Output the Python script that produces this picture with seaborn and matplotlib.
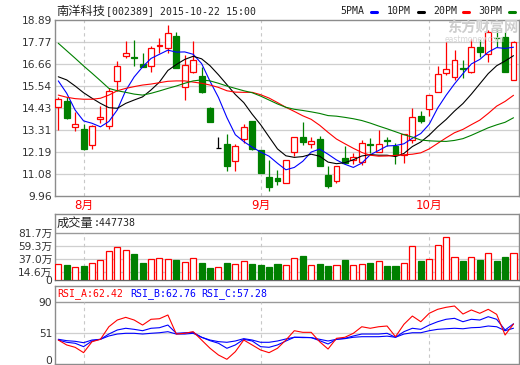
import matplotlib
matplotlib.use("Agg")
import matplotlib.pyplot as plt
import seaborn as sns
import numpy as np
from matplotlib.lines import Line2D

# ---------------- data ----------------
opens = [14.46, 14.78, 13.45, 13.36, 12.55, 13.85, 13.51, 15.81, 17.05, 17.01,
         16.66, 16.56, 17.57, 17.48, 18.09, 15.51, 16.24, 16.05, 14.43, 12.38,
         12.60, 11.72, 12.85, 13.77, 12.29, 10.92, 10.86, 10.60, 12.21, 12.94,
         12.61, 12.85, 11.03, 10.74, 11.90, 11.79, 11.70, 12.60, 12.21, 12.80,
         12.50, 12.04, 12.80, 14.02, 14.36, 15.25, 16.19, 16.01, 16.46, 16.27,
         17.50, 17.15, 18.00, 18.01, 15.85]
highs = [15.00, 15.00, 14.24, 13.61, 13.55, 14.53, 15.42, 16.81, 17.82, 17.88,
         17.23, 17.57, 17.96, 18.64, 18.30, 17.11, 17.82, 16.52, 14.47, 12.97,
         13.11, 12.60, 13.61, 13.77, 12.31, 11.79, 11.28, 11.79, 12.95, 13.73,
         12.97, 13.00, 11.48, 11.48, 12.50, 12.13, 12.80, 12.92, 13.31, 12.97,
         12.67, 13.13, 14.44, 14.29, 15.08, 16.57, 17.76, 17.37, 16.86, 17.91,
         17.88, 18.38, 18.42, 18.27, 17.80]
lows = [13.31, 13.87, 13.27, 12.29, 12.33, 13.65, 13.34, 15.30, 16.98, 16.57,
        16.49, 16.27, 17.20, 17.20, 16.44, 14.83, 16.19, 15.20, 13.73, 12.38,
        11.24, 11.24, 12.63, 12.29, 11.12, 10.23, 10.53, 10.60, 11.99, 12.55,
        12.41, 11.50, 10.38, 10.60, 11.58, 11.58, 11.53, 12.13, 12.21, 12.50,
        11.57, 11.65, 12.67, 13.65, 14.02, 15.25, 16.10, 15.85, 15.93, 16.19,
        17.03, 16.77, 17.54, 16.24, 15.83]
closes = [14.88, 13.93, 13.60, 12.33, 13.51, 13.97, 15.30, 16.56, 17.20, 16.98,
          16.52, 17.45, 17.60, 18.25, 16.47, 16.59, 16.86, 15.25, 13.73, 12.38,
          11.50, 12.50, 13.48, 12.33, 11.14, 10.43, 10.74, 11.79, 12.94, 12.72,
          12.75, 11.50, 10.48, 11.48, 11.62, 11.95, 12.63, 12.57, 12.58, 12.76,
          12.04, 13.11, 13.98, 13.78, 15.08, 16.13, 16.39, 16.85, 16.42, 17.50,
          17.28, 18.27, 17.98, 16.24, 17.76]
ma5 = [15.80, 15.17, 14.32, 13.77, 13.65, 13.47, 13.74, 14.33, 15.31, 16.00,
       16.51, 16.94, 17.15, 17.36, 17.26, 17.27, 17.15, 16.68, 15.78, 14.96,
       13.94, 13.07, 12.72, 12.44, 12.19, 11.98, 11.62, 11.29, 11.41, 11.72,
       12.19, 12.34, 12.08, 11.79, 11.57, 11.41, 11.63, 12.05, 12.27, 12.50,
       12.52, 12.61, 12.89, 13.13, 13.60, 14.42, 15.07, 15.65, 16.17, 16.66,
       16.89, 17.26, 17.49, 17.45, 17.51]
ma10 = [16.01, 15.85, 15.54, 15.20, 14.92, 14.66, 14.44, 14.41, 14.66, 14.83,
        14.99, 15.34, 15.74, 16.33, 16.63, 16.89, 17.05, 16.92, 16.57, 16.11,
        15.61, 15.11, 14.70, 14.11, 13.58, 12.96, 12.35, 12.00, 11.92, 11.96,
        12.08, 11.98, 11.68, 11.60, 11.65, 11.80, 11.99, 12.06, 12.03, 12.03,
        11.96, 12.12, 12.47, 12.70, 13.05, 13.47, 13.84, 14.27, 14.65, 15.13,
        15.65, 16.17, 16.57, 16.81, 17.08]
ma20 = [15.08, 14.97, 14.90, 14.87, 14.87, 14.92, 15.08, 15.30, 15.42, 15.51,
        15.59, 15.64, 15.71, 15.78, 15.80, 15.80, 15.74, 15.68, 15.59, 15.47,
        15.30, 15.23, 15.22, 15.22, 15.10, 14.93, 14.70, 14.46, 14.25, 14.03,
        13.85, 13.55, 13.19, 12.85, 12.61, 12.38, 12.17, 12.03, 11.98, 11.99,
        12.02, 12.05, 12.08, 12.15, 12.35, 12.63, 12.91, 13.17, 13.34, 13.58,
        13.81, 14.15, 14.52, 14.76, 15.07]
ma30 = [17.71, 17.33, 16.95, 16.56, 16.19, 15.81, 15.42, 15.30, 15.22, 15.13,
        15.08, 15.17, 15.29, 15.42, 15.54, 15.68, 15.80, 15.85, 15.80, 15.68,
        15.54, 15.42, 15.30, 15.20, 15.03, 14.83, 14.63, 14.46, 14.36, 14.30,
        14.23, 14.15, 14.04, 14.01, 13.95, 13.88, 13.79, 13.66, 13.51, 13.37,
        13.22, 13.07, 12.95, 12.80, 12.76, 12.74, 12.73, 12.78, 12.87, 13.04,
        13.23, 13.42, 13.57, 13.70, 13.93]
volumes = [27.6, 25.9, 21.9, 24.2, 28.8, 34.5, 49.5, 56.5, 51.3, 45.4,
           29.9, 35.7, 37.5, 35.7, 34.5, 30.5, 37.5, 29.9, 21.3, 21.9,
           29.9, 27.6, 32.2, 27.6, 25.9, 22.5, 27.6, 25.9, 37.5, 41.5,
           25.9, 27.6, 24.2, 25.9, 34.5, 25.9, 27.6, 29.4, 32.2, 24.2,
           24.2, 28.8, 58.7, 32.8, 35.7, 60.4, 73.7, 39.2, 32.8, 39.2,
           34.5, 46.1, 32.8, 39.7, 47.0]
rsi_a = [42.7, 36.6, 33.7, 27.1, 40.6, 43.6, 59.1, 67.4, 70.7, 67.4,
         61.2, 68.3, 69.0, 73.6, 50.1, 51.0, 53.0, 42.7, 32.5, 24.2,
         18.9, 28.3, 42.7, 36.6, 30.4, 27.1, 32.5, 42.7, 54.2, 52.2,
         52.2, 40.6, 31.6, 44.8, 46.1, 51.0, 59.1, 57.2, 59.1, 60.0,
         46.8, 62.1, 72.3, 65.3, 75.7, 80.6, 83.1, 84.7, 74.8, 79.8,
         75.7, 80.6, 74.4, 48.9, 62.42]
rsi_b = [42.7, 39.9, 38.7, 34.5, 41.5, 43.6, 50.1, 55.1, 57.2, 55.9,
         54.2, 57.2, 57.9, 61.2, 51.0, 51.7, 52.2, 46.1, 41.9, 38.7,
         32.5, 36.6, 43.6, 41.5, 34.5, 33.7, 36.6, 41.5, 46.1, 46.1,
         45.7, 41.9, 37.8, 43.6, 44.8, 47.7, 50.1, 50.1, 50.1, 51.0,
         46.1, 53.0, 57.2, 55.9, 61.2, 65.3, 68.3, 69.5, 65.3, 68.3,
         67.4, 71.5, 68.3, 55.1, 62.76]
rsi_c = [43.6, 41.9, 41.1, 39.4, 42.7, 43.6, 47.7, 50.1, 51.0, 51.0,
         50.1, 51.0, 51.7, 53.0, 50.1, 50.1, 51.0, 46.1, 42.7, 40.7,
         39.9, 41.5, 44.4, 42.7, 39.9, 39.9, 41.5, 44.0, 46.1, 45.7,
         45.7, 43.6, 41.5, 43.6, 44.4, 46.1, 46.8, 46.8, 46.8, 47.5,
         46.1, 50.1, 51.7, 51.7, 54.2, 55.9, 56.6, 57.2, 56.6, 57.9,
         58.3, 60.0, 59.1, 54.2, 57.28]
price_ticks = [9.96, 11.08, 12.19, 13.31, 14.43, 15.54, 16.66, 17.77, 18.89]
vol_ticks = [0, 14.6, 37.0, 59.3, 81.7]
vol_tick_labels = ["0", "14.6万", "37.0万", "59.3万", "81.7万"]
rsi_ticks = [18.0, 51, 90]
rsi_tick_labels = ["0", "51", "90"]
month_pos = [3, 24, 44]
month_labels = ["8月", "9月", "10月"]
title_name = "南洋科技"
title_rest = "[002389] 2015-10-22 15:00"
vol_title = "成交量"
vol_last = ":447738"

# ---------------- style ----------------
sns.set_theme(style="white")
plt.rcParams["font.family"] = ["DejaVu Sans", "Noto Sans CJK SC"]

RED = "#ff0000"
GREEN = "#008000"
BLUE = "#0000ff"
GRID = "#cfcfcf"
BORDER = "#8c8c8c"
MONO = ["DejaVu Sans Mono", "Noto Sans CJK SC"]
CJK = ["Noto Sans CJK SC", "DejaVu Sans"]

W, H = 520, 365
fig = plt.figure(figsize=(W / 100, H / 100), dpi=100)
fig.patch.set_facecolor("white")

def fx(px):
    return px / W

def fy(py):
    return 1 - py / H

L, R = 55, 519
ax1 = fig.add_axes([fx(L), fy(196), (R - L) / W, 176 / H])
ax2 = fig.add_axes([fx(L), fy(280), (R - L) / W, 66 / H])
ax3 = fig.add_axes([fx(L), fy(364), (R - L) / W, 78 / H])

x = np.arange(len(closes))
o = np.array(opens); c = np.array(closes)
hi = np.array(highs); lo = np.array(lows)
edge = [RED if cc > oo else (GREEN if cc < oo else "black") for oo, cc in zip(o, c)]
face = ["white" if cc > oo else (GREEN if cc < oo else "black") for oo, cc in zip(o, c)]
xl = (-0.39, len(closes) - 1 + 0.65)

for ax in (ax1, ax2, ax3):
    ax.set_facecolor("white")
    for s in ax.spines.values():
        s.set_color(BORDER)
        s.set_linewidth(1.0)
    ax.set_xlim(*xl)
    ax.tick_params(axis="y", length=0, pad=2, labelsize=7.7, labelcolor="#333333")
    ax.grid(False)

# ---------------- price panel ----------------
ax1.set_ylim(price_ticks[0], price_ticks[-1])
ax1.set_yticks(price_ticks)
ax1.set_yticklabels([f"{t:.2f}" for t in price_ticks])
for t in price_ticks[1:-1]:
    ax1.axhline(t, color=GRID, lw=0.9, zorder=0)
ax1.vlines(month_pos, price_ticks[0], price_ticks[-1], colors="#c8c8c8",
           linestyles=(0, (3, 3)), lw=0.8, zorder=0)
ax1.vlines(x, lo, hi, colors=edge, lw=0.9, zorder=2)
body_bottom = np.minimum(o, c)
body_h = np.maximum(np.abs(c - o), 0.015)
ax1.bar(x, body_h, bottom=body_bottom, width=0.7, color=face, edgecolor=edge,
        linewidth=0.9, zorder=3)
for vals, col in ((ma5, BLUE), (ma10, "black"), (ma20, RED), (ma30, GREEN)):
    sns.lineplot(x=x, y=vals, ax=ax1, color=col, linewidth=0.8, legend=False, zorder=4)
ax1.set_xticks(month_pos)
ax1.set_xticklabels(month_labels)
ax1.tick_params(axis="x", length=0, pad=2, labelsize=8.5, labelcolor=RED)
ax1.set_xlabel(""); ax1.set_ylabel("")

# watermark
fig.text(fx(447), fy(29), "东方财富网", family=CJK, fontsize=10.3, fontweight="bold",
         color="#cdcdcd", ha="left", va="center", zorder=0)
fig.text(fx(445), fy(40), "eastmoney.com", fontsize=5.5, color="#d5d5d5",
         ha="left", va="center", zorder=0)

# ---------------- volume panel ----------------
ax2.set_ylim(0, 114)
ax2.set_yticks(vol_ticks)
ax2.set_yticklabels(vol_tick_labels)
for t in vol_ticks[1:-1]:
    ax2.axhline(t, color=GRID, lw=0.9, zorder=0)
ax2.axhline(vol_ticks[-1], color="#9a9a9a", lw=1.0, zorder=0)
ax2.vlines(month_pos, 0, vol_ticks[-1], colors="#c8c8c8", linestyles=(0, (3, 3)),
           lw=0.8, zorder=0)
vface = ["white" if cc >= oo else GREEN for oo, cc in zip(o, c)]
vedge = [RED if cc >= oo else GREEN for oo, cc in zip(o, c)]
ax2.bar(x, volumes, width=0.72, color=vface, edgecolor=vedge, linewidth=0.9, zorder=3)
ax2.set_xticks([])
ax2.spines["bottom"].set_color("#666666")

# ---------------- RSI panel ----------------
ax3.set_ylim(13.1, 109.4)
ax3.set_yticks(rsi_ticks)
ax3.set_yticklabels(rsi_tick_labels)
ax3.axhline(51, color=GRID, lw=0.9, zorder=0)
ax3.axhline(90, color="#9a9a9a", lw=1.0, zorder=0)
ax3.vlines(month_pos, 13.1, 90, colors="#c8c8c8", linestyles=(0, (3, 3)), lw=0.8, zorder=0)
sns.lineplot(x=x, y=rsi_c, ax=ax3, color=BLUE, linewidth=0.8, legend=False)
sns.lineplot(x=x, y=rsi_b, ax=ax3, color=BLUE, linewidth=0.8, legend=False)
sns.lineplot(x=x, y=rsi_a, ax=ax3, color=RED, linewidth=0.8, legend=False)
ax3.set_xticks([])
ax3.set_xlabel(""); ax3.set_ylabel("")

# ---------------- header texts ----------------
fig.text(fx(56), fy(11), title_name, family=CJK, fontsize=8.8, color="#222222",
         ha="left", va="center")
fig.text(fx(106), fy(11), title_rest, family=MONO, fontsize=7.1, color="#222222",
         ha="left", va="center")

legend_items = [("5PMA", 340, 371, BLUE), ("10PM", 387, 418, "black"),
                ("20PM", 433, 463, RED), ("30PM", 478, 509, GREEN)]
for lab, tx, lx, col in legend_items:
    fig.text(fx(tx), fy(11), lab, family=MONO, fontsize=7.1, color="#222222",
             ha="left", va="center")
    fig.add_artist(Line2D([fx(lx), fx(lx + 6)], [fy(12), fy(12)], color=col,
                          lw=2.2, transform=fig.transFigure))

fig.text(fx(57), fy(223), vol_title, family=CJK, fontsize=8.8, color="#222222",
         ha="left", va="center")
fig.text(fx(94), fy(223), vol_last, family=MONO, fontsize=7.1, color="#222222",
         ha="left", va="center")

fig.text(fx(57), fy(294), f"RSI_A:{rsi_a[-1]:.2f}", family=MONO, fontsize=7.1,
         color=RED, ha="left", va="center")
fig.text(fx(130), fy(294), f"RSI_B:{rsi_b[-1]:.2f}", family=MONO, fontsize=7.1,
         color=BLUE, ha="left", va="center")
fig.text(fx(201), fy(294), f"RSI_C:{rsi_c[-1]:.2f}", family=MONO, fontsize=7.1,
         color=BLUE, ha="left", va="center")

fig.savefig("out.png", dpi=100, facecolor="white")
